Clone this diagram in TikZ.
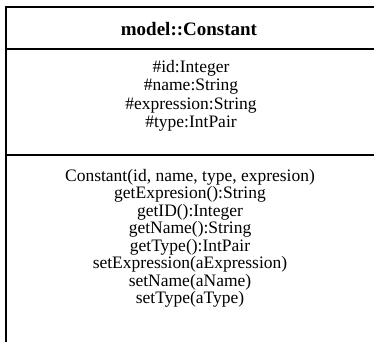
\documentclass[tikz,border=0pt]{standalone}
\usepackage{fontspec}
\setmainfont{Liberation Serif}
\begin{document}
\begin{tikzpicture}[x=1pt,y=1pt,
  border/.style={line width=2pt,black},
  member/.style={align=center,font=\fontsize{17.5}{18.3}\selectfont,inner sep=0pt},
  opstyle/.style={align=center,font=\fontsize{17.5}{17.5}\selectfont,inner sep=0pt},
  titlestyle/.style={font=\bfseries\fontsize{19}{21}\selectfont,inner sep=0pt}]
\useasboundingbox (0,0) rectangle (374,-341);
\coordinate (tl) at (6,-7);
\coordinate (tr) at (382,-7);
\coordinate (bl) at (6,-350);
\coordinate (h1l) at (6,-49);
\coordinate (h1r) at (382,-49);
\coordinate (h2l) at (6,-155);
\coordinate (h2r) at (382,-155);
\draw[border] (tr) -- (tl) -- (bl);
\draw[border] (h1l) -- (h1r);
\draw[border] (h2l) -- (h2r);
\node[titlestyle, anchor=base] (title) at (189,-35) {model::Constant};
% base anchor of a multi-line node is the baseline of its last line
\node[member, anchor=base] (attrs) at (191,-127.5) {\#id:Integer\\\#name:String\\\#expression:String\\\#type:IntPair};
\node[opstyle, anchor=base] (ops) at (190,-303.5) {Constant(id, name, type, expresion)\\getExpresion():String\\getID():Integer\\getName():String\\getType():IntPair\\setExpression(aExpression)\\setName(aName)\\setType(aType)};
\end{tikzpicture}
\end{document}
